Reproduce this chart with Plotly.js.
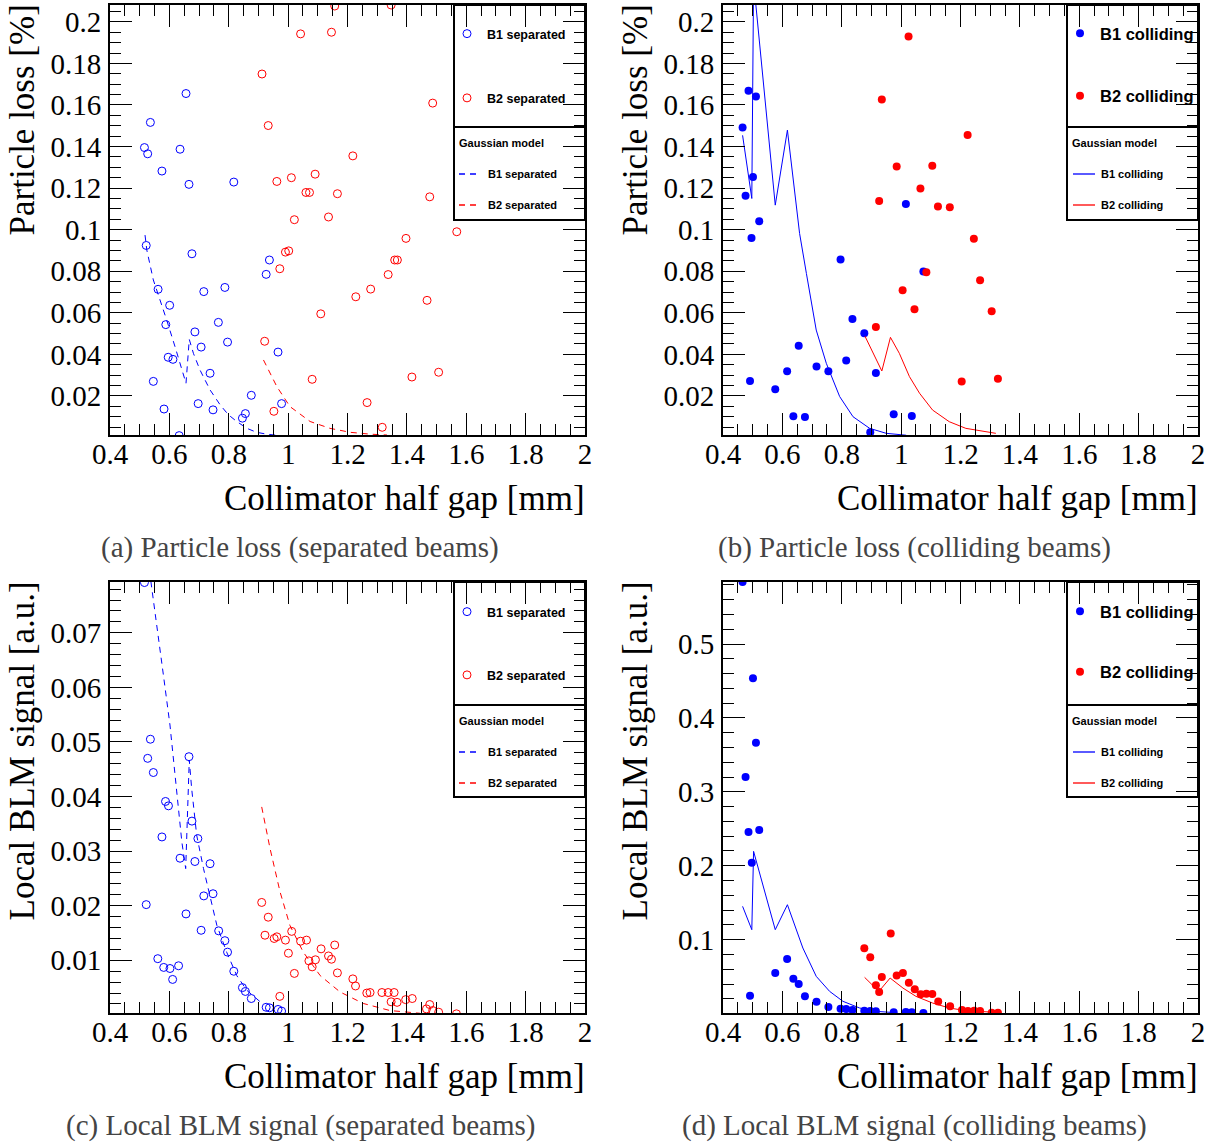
<!DOCTYPE html>
<html>
<head>
<meta charset="utf-8">
<script src="https://cdn.plot.ly/plotly-3.0.1.min.js"></script>
<style>html,body{margin:0;padding:0;background:#fff;}#chart{width:1221px;height:1144px;}</style>
</head>
<body>
<div id="chart"></div>
<script>
// ---------- (a) Particle loss, separated beams ----------
const a_b1_x = [0.656,0.536,0.516,0.527,0.636,0.575,0.666,0.817,0.522,0.676,0.937,0.926,0.562,0.716,0.787,0.601,0.588,0.765,0.686,0.707,0.796,0.596,0.612,0.966,0.737,0.546,0.876,0.697,0.582,0.747,0.978,0.856,0.846,0.633];
const a_b1_y = [0.1655,0.1516,0.1395,0.1365,0.1387,0.1282,0.1218,0.1229,0.0924,0.0884,0.0854,0.0785,0.0713,0.0702,0.0722,0.0636,0.0543,0.0554,0.0508,0.0435,0.0459,0.0386,0.0376,0.0411,0.0309,0.0270,0.0203,0.0163,0.0137,0.0133,0.0163,0.0115,0.0093,0.0009];
const a_b2_x = [1.157,1.042,1.146,0.912,0.933,0.962,1.011,1.091,1.060,1.072,1.166,1.021,1.136,0.991,1.002,0.972,1.110,0.921,1.081,0.952,1.347,1.487,1.218,1.477,1.568,1.397,1.359,1.368,1.337,1.278,1.228,1.468,1.417,1.507,1.266,1.317];
const a_b2_y = [0.2076,0.1942,0.1950,0.1749,0.1501,0.1232,0.1250,0.1267,0.1179,0.1179,0.1173,0.1048,0.1061,0.0892,0.0898,0.0812,0.0595,0.0463,0.0280,0.0126,0.2081,0.1609,0.1355,0.1158,0.0990,0.0958,0.0854,0.0854,0.0784,0.0714,0.0677,0.0660,0.0291,0.0314,0.0168,0.0049];
const a_m1_x = [0.518,0.524,0.546,0.569,0.591,0.619,0.642,0.656,0.667,0.681,0.703,0.737,0.771,0.799,0.827,0.861,0.894,0.928,0.973];
const a_m1_y = [0.0974,0.0902,0.0758,0.0662,0.0565,0.0437,0.0325,0.0261,0.0472,0.0405,0.0325,0.0229,0.0157,0.0109,0.0077,0.0044,0.0025,0.0016,0.0009];
const a_m2_x = [0.917,0.962,1.006,1.074,1.141,1.209,1.276,1.333];
const a_m2_y = [0.0373,0.0245,0.0149,0.0077,0.0044,0.0025,0.0016,0.0012];

// ---------- (b) Particle loss, colliding beams ----------
const b_b1_x = [0.466,0.486,0.511,0.476,0.501,0.522,0.496,0.796,0.836,0.876,0.815,0.655,0.616,0.715,0.755,0.576,0.491,0.637,0.676,0.915,0.896,0.975,1.036,1.016,1.075];
const b_b1_y = [0.1491,0.1668,0.1641,0.1163,0.1253,0.1041,0.0960,0.0857,0.0570,0.0501,0.0371,0.0442,0.0319,0.0341,0.0319,0.0232,0.0272,0.0102,0.0099,0.0310,0.0025,0.0112,0.0104,0.1124,0.0799];
const b_b2_x = [1.025,0.935,0.985,1.105,1.065,0.926,1.124,1.164,1.085,1.005,1.045,0.915,1.224,1.245,1.266,1.305,1.204,1.326];
const b_b2_y = [0.1929,0.1626,0.1304,0.1307,0.1198,0.1138,0.1112,0.1108,0.0795,0.0708,0.0617,0.0532,0.1456,0.0956,0.0756,0.0607,0.0270,0.0283];
const b_m1_x = [0.466,0.497,0.503,0.576,0.617,0.658,0.681,0.714,0.748,0.793,0.838,0.894,0.950,1.017];
const b_m1_y = [0.1454,0.1150,0.2195,0.1118,0.1479,0.0982,0.0789,0.0517,0.0357,0.0197,0.0100,0.0044,0.0020,0.0011];
const b_m2_x = [0.878,0.935,0.964,0.994,1.028,1.062,1.106,1.162,1.218,1.319];
const b_m2_y = [0.0488,0.0320,0.0482,0.0405,0.0293,0.0213,0.0132,0.0076,0.0044,0.0020];

// ---------- (c) Local BLM signal, separated beams ----------
const c_b1_x = [0.516,0.536,0.527,0.546,0.666,0.587,0.597,0.676,0.575,0.696,0.636,0.686,0.737,0.716,0.747,0.522,0.656,0.707,0.766,0.787,0.796,0.561,0.581,0.602,0.631,0.611,0.817,0.846,0.856,0.876,0.926,0.937,0.966,0.978];
const c_b1_y = [0.0792,0.0505,0.0470,0.0444,0.0473,0.0391,0.0383,0.0355,0.0326,0.0323,0.0287,0.0281,0.0277,0.0218,0.0222,0.0202,0.0185,0.0155,0.0154,0.0136,0.0115,0.0103,0.0087,0.0085,0.0090,0.0065,0.0080,0.0050,0.0043,0.0030,0.0014,0.0013,0.0010,0.0007];
const c_b2_x = [0.911,0.933,0.922,0.953,0.962,0.991,1.012,1.001,1.021,1.042,1.062,1.070,1.081,1.092,1.111,1.136,1.146,1.157,1.166,1.218,1.227,1.265,1.276,1.316,1.337,1.357,1.347,1.367,1.396,1.418,1.477,1.466,1.487,1.507,1.567,0.972];
const c_b2_y = [0.0206,0.0179,0.0146,0.0140,0.0143,0.0137,0.0153,0.0113,0.0076,0.0135,0.0137,0.0099,0.0088,0.0101,0.0121,0.0108,0.0102,0.0128,0.0077,0.0066,0.0053,0.0040,0.0041,0.0041,0.0041,0.0041,0.0024,0.0023,0.0028,0.0030,0.0019,0.0011,0.0008,0.0005,0.0002,0.0034];
const c_m1_x = [0.518,0.540,0.557,0.580,0.602,0.625,0.642,0.655,0.667,0.675,0.692,0.715,0.737,0.760,0.793,0.827,0.861,0.906];
const c_m1_y = [0.0874,0.0781,0.0714,0.0622,0.0531,0.0415,0.0317,0.0268,0.0467,0.0415,0.0329,0.0268,0.0219,0.0164,0.0115,0.0072,0.0045,0.0024];
const c_m2_x = [0.911,0.939,0.973,1.006,1.051,1.108,1.175,1.253,1.343,1.444];
const c_m2_y = [0.0381,0.0305,0.0225,0.0164,0.0115,0.0072,0.0042,0.0021,0.0008,0.0003];

// ---------- (d) Local BLM signal, colliding beams ----------
const d_b1_x = [0.466,0.501,0.511,0.476,0.486,0.522,0.497,0.491,0.616,0.576,0.637,0.655,0.676,0.715,0.755,0.796,0.815,0.836,0.876,0.896,0.915,0.975,1.016,1.036,1.075];
const d_b1_y = [0.584,0.4536,0.3665,0.3200,0.2456,0.2483,0.2042,0.0242,0.0738,0.0548,0.0471,0.0399,0.0233,0.0161,0.0089,0.0066,0.0062,0.0048,0.0039,0.0035,0.0030,0.0017,0.0021,0.0017,0.0008];
const d_b2_x = [0.876,0.896,0.965,0.915,0.926,0.935,0.985,1.006,1.026,1.046,1.066,1.085,1.105,1.125,1.165,1.205,1.225,1.246,1.266,1.305,1.326];
const d_b2_y = [0.0883,0.0761,0.1085,0.0382,0.0292,0.0495,0.0517,0.0549,0.0418,0.0328,0.0260,0.0269,0.0265,0.0165,0.0098,0.0048,0.0035,0.0039,0.0035,0.0012,0.0012];
const d_m1_x = [0.466,0.497,0.503,0.576,0.617,0.669,0.714,0.759,0.804,0.860,0.916,0.983];
const d_m1_y = [0.1451,0.1135,0.2195,0.1135,0.1473,0.0887,0.0504,0.0301,0.0166,0.0076,0.0030,0.0012];
const d_m2_x = [0.877,0.925,0.963,1.006,1.050,1.106,1.162,1.218,1.319];
const d_m2_y = [0.0490,0.0300,0.0481,0.0346,0.0233,0.0143,0.0076,0.0040,0.0017];

// ---------- text ----------
const xTitle = "Collimator half gap [mm]";
const yTitles = ["Particle loss [%]", "Particle loss [%]", "Local BLM signal [a.u.]", "Local BLM signal [a.u.]"];
const captions = ["(a) Particle loss (separated beams)", "(b) Particle loss (colliding beams)",
                  "(c) Local BLM signal (separated beams)", "(d) Local BLM signal (colliding beams)"];
const modelNames = [["B1 separated", "B2 separated"], ["B1 colliding", "B2 colliding"],
                    ["B1 separated", "B2 separated"], ["B1 colliding", "B2 colliding"]];

// ---------- layout helpers ----------
const W = 1221, H = 1144;
const px = v => v / W;
const py = v => 1 - v / H;
const BLUE = '#0000ff', RED = '#ff0000';
const SERIF = 'Liberation Serif, Times New Roman, serif';
const SANS = 'Liberation Sans, Arial, sans-serif';
const DASH = '6px,5px';

const panels = [
  {L:110, R:585, T:5,   B:435, C:300},
  {L:723, R:1198, T:5,  B:435, C:914},
  {L:110, R:585, T:582, B:1013, C:300},
  {L:723, R:1198, T:582, B:1013, C:914}
];

function xaxis(p, anchor) {
  return {domain:[px(p.L), px(p.R)], anchor:anchor, range:[0.4, 2], tick0:0.4, dtick:0.2,
    ticks:'inside', ticklen:22, tickwidth:1, tickcolor:'#000', mirror:'allticks',
    showline:true, linewidth:2, linecolor:'#000', showgrid:false, zeroline:false,
    minor:{dtick:0.05, tick0:0.4, ticks:'inside', ticklen:11, tickwidth:1, tickcolor:'#000', showgrid:false},
    tickfont:{family:SERIF, size:29, color:'#000'}, ticklabelstandoff:-8};
}
function yaxis(p, anchor, range, dtick, mdtick) {
  return {domain:[py(p.B), py(p.T)], anchor:anchor, range:range, tick0:0, dtick:dtick,
    ticks:'inside', ticklen:22, tickwidth:1, tickcolor:'#000', mirror:'allticks',
    showline:true, linewidth:2, linecolor:'#000', showgrid:false, zeroline:false,
    minor:{dtick:mdtick, tick0:0, ticks:'inside', ticklen:11, tickwidth:1, tickcolor:'#000', showgrid:false},
    tickfont:{family:SERIF, size:29, color:'#000'}, ticklabelstandoff:1};
}

function pts(x, y, xa, ya, name, color, open, leg, grp) {
  return {type:'scatter', mode:'markers', x:x, y:y, xaxis:xa, yaxis:ya, name:name,
    legend:leg, legendgroup:grp,
    marker: open ? {symbol:'circle-open', size:8, color:color, line:{width:1, color:color}}
                 : {symbol:'circle', size:8, color:color, line:{width:0}}};
}
function model(x, y, xa, ya, name, color, dash) {
  return {type:'scatter', mode:'lines', x:x, y:y, xaxis:xa, yaxis:ya, name:'Gaussian model ' + name,
    showlegend:false, line:{color:color, width:1, dash:dash}};
}

const data = [
  pts(a_b1_x, a_b1_y, 'x', 'y', 'B1 separated', BLUE, true, 'legend', 'ab1'),
  pts(a_b2_x, a_b2_y, 'x', 'y', 'B2 separated', RED, true, 'legend', 'ab2'),
  model(a_m1_x, a_m1_y, 'x', 'y', 'B1 separated', BLUE, DASH),
  model(a_m2_x, a_m2_y, 'x', 'y', 'B2 separated', RED, DASH),

  pts(b_b1_x, b_b1_y, 'x2', 'y2', 'B1 colliding', BLUE, false, 'legend2', 'bb1'),
  pts(b_b2_x, b_b2_y, 'x2', 'y2', 'B2 colliding', RED, false, 'legend2', 'bb2'),
  model(b_m1_x, b_m1_y, 'x2', 'y2', 'B1 colliding', BLUE, 'solid'),
  model(b_m2_x, b_m2_y, 'x2', 'y2', 'B2 colliding', RED, 'solid'),

  pts(c_b1_x, c_b1_y, 'x3', 'y3', 'B1 separated', BLUE, true, 'legend3', 'cb1'),
  pts(c_b2_x, c_b2_y, 'x3', 'y3', 'B2 separated', RED, true, 'legend3', 'cb2'),
  model(c_m1_x, c_m1_y, 'x3', 'y3', 'B1 separated', BLUE, DASH),
  model(c_m2_x, c_m2_y, 'x3', 'y3', 'B2 separated', RED, DASH),

  pts(d_b1_x, d_b1_y, 'x4', 'y4', 'B1 colliding', BLUE, false, 'legend4', 'db1'),
  pts(d_b2_x, d_b2_y, 'x4', 'y4', 'B2 colliding', RED, false, 'legend4', 'db2'),
  model(d_m1_x, d_m1_y, 'x4', 'y4', 'B1 colliding', BLUE, 'solid'),
  model(d_m2_x, d_m2_y, 'x4', 'y4', 'B2 colliding', RED, 'solid')
];

function legendTop(textLeft, top, size, gap) {
  return {x:px(textLeft - 40), y:py(top), xref:'paper', yref:'paper', xanchor:'left', yanchor:'top',
    bgcolor:'rgba(0,0,0,0)', borderwidth:0, tracegroupgap:gap, traceorder:'grouped',
    itemwidth:30, itemclick:false, itemdoubleclick:false,
    font:{family:SANS, size:size, color:'#000', weight:'bold'}};
}

const layout = {
  width:W, height:H, margin:{l:0, r:0, t:0, b:0},
  paper_bgcolor:'#fff', plot_bgcolor:'#fff', showlegend:true,
  xaxis: xaxis(panels[0], 'y'),  yaxis: yaxis(panels[0], 'x', [0.0012, 0.2081], 0.02, 0.005),
  xaxis2: xaxis(panels[1], 'y2'), yaxis2: yaxis(panels[1], 'x2', [0.0012, 0.2081], 0.02, 0.005),
  xaxis3: xaxis(panels[2], 'y3'), yaxis3: yaxis(panels[2], 'x3', [0.00035, 0.0793], 0.01, 0.002),
  xaxis4: xaxis(panels[3], 'y4'), yaxis4: yaxis(panels[3], 'x4', [0.0008, 0.5839], 0.1, 0.02),
  legend:  legendTop(487, 19, 12.5, 45),
  legend2: legendTop(1100, 16, 16.5, 38),
  legend3: legendTop(487, 597, 12.5, 44),
  legend4: legendTop(1100, 594, 16.5, 36),
  shapes: [],
  annotations: []
};

// legend boxes and the "Gaussian model" key
const boxes = [
  {L:454, R:585, T:5, M:127, B:220, sx0:459, sx1:479, tx:487, dash:DASH},
  {L:1067, R:1198, T:5, M:127, B:220, sx0:1073, sx1:1095, tx:1100, dash:'solid'},
  {L:454, R:585, T:582, M:705, B:797, sx0:459, sx1:479, tx:487, dash:DASH},
  {L:1067, R:1198, T:582, M:705, B:797, sx0:1073, sx1:1095, tx:1100, dash:'solid'}
];
boxes.forEach((b, i) => {
  layout.shapes.push({type:'rect', xref:'paper', yref:'paper', x0:px(b.L), x1:px(b.R), y0:py(b.M), y1:py(b.T),
    line:{color:'#000', width:2}, fillcolor:'rgba(0,0,0,0)'});
  layout.shapes.push({type:'rect', xref:'paper', yref:'paper', x0:px(b.L), x1:px(b.R), y0:py(b.B), y1:py(b.M),
    line:{color:'#000', width:2}, fillcolor:'rgba(0,0,0,0)'});
  layout.annotations.push({text:'Gaussian model', xref:'paper', yref:'paper', x:px(b.L + 3), y:py(b.M + 16),
    xanchor:'left', yanchor:'middle', showarrow:false, font:{family:SANS, size:11, color:'#000', weight:'bold'}});
  [BLUE, RED].forEach((col, k) => {
    const yy = b.M + 47 + k * 31;
    layout.shapes.push({type:'line', xref:'paper', yref:'paper', x0:px(b.sx0), x1:px(b.sx1), y0:py(yy), y1:py(yy),
      line:{color:col, width:1.3, dash:b.dash}});
    layout.annotations.push({text:modelNames[i][k], xref:'paper', yref:'paper', x:px(b.tx - 1), y:py(yy),
      xanchor:'left', yanchor:'middle', showarrow:false, font:{family:SANS, size:11, color:'#000', weight:'bold'}});
  });
});

// axis titles and captions
panels.forEach((p, i) => {
  layout.annotations.push({text:xTitle, xref:'paper', yref:'paper', x:px(p.R + 2), y:py(p.B + 63),
    xanchor:'right', yanchor:'middle', showarrow:false, font:{family:SERIF, size:35, color:'#000'}});
  layout.annotations.push({text:yTitles[i], xref:'paper', yref:'paper', x:px(p.L - 88), y:py(p.T - 2),
    xanchor:'center', yanchor:'top', textangle:-90, showarrow:false, font:{family:SERIF, size:35, color:'#000'}});
  layout.annotations.push({text:captions[i], xref:'paper', yref:'paper', x:px(p.C), y:py(p.B + 112),
    xanchor:'center', yanchor:'middle', showarrow:false, font:{family:SERIF, size:29, color:'#444'}});
});

Plotly.newPlot('chart', data, layout, {staticPlot:true, displayModeBar:false});
</script>
</body>
</html>
